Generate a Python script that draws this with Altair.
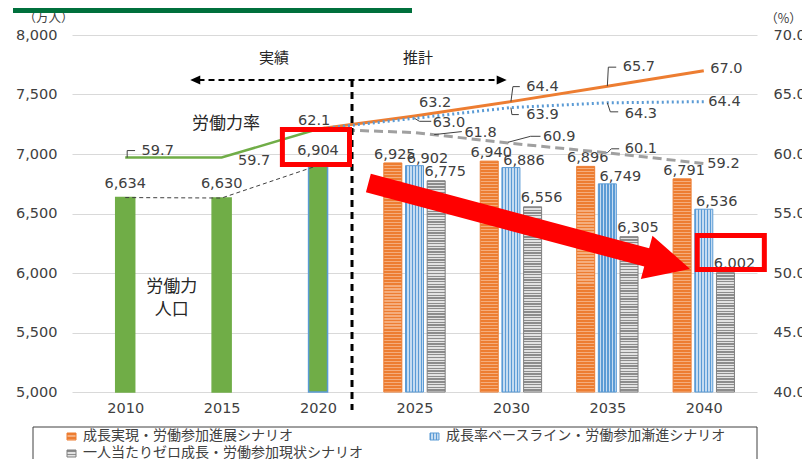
import altair as alt
import pandas as pd

# ---------------- data ----------------
years_hist = [2010, 2015, 2020]
pop_hist = [6634, 6630, 6904]
rate_hist = [59.7, 59.7, 62.1]

years_proj = [2025, 2030, 2035, 2040]
pop_growth = [6925, 6940, 6896, 6791]
pop_base = [6902, 6886, 6749, 6536]
pop_zero = [6775, 6556, 6305, 6002]
rate_growth = [63.2, 64.4, 65.7, 67.0]
rate_base = [63.0, 63.9, 64.3, 64.4]
rate_zero = [61.8, 60.9, 60.1, 59.2]

scenarios = [
    "成長実現・労働参加進展シナリオ",
    "成長率ベースライン・労働参加漸進シナリオ",
    "一人当たりゼロ成長・労働参加現状シナリオ",
]
x_ticks = [2010, 2015, 2020, 2025, 2030, 2035, 2040]
left_ticks = [5000, 5500, 6000, 6500, 7000, 7500, 8000]
right_ticks = [40, 45, 50, 55, 60, 65, 70]

# ---------------- layout / style ----------------
W, H = 685, 357
X_DOM = [2007.5, 2042.5]
YL_DOM = [5000, 8000]
YR_DOM = [40, 70]
PX_YEAR = W / (X_DOM[1] - X_DOM[0])
PX_RATE = H / (YR_DOM[1] - YR_DOM[0])
PX_POP = H / (YL_DOM[1] - YL_DOM[0])
NUM = "DejaVu Sans"
JP = "Noto Sans CJK JP"
TXT = "#404040"
ORANGE, BLUE, GRAY, GREEN = "#ED7D31", "#5B9BD5", "#A5A5A5", "#70AD47"

xs = alt.Scale(domain=X_DOM, nice=False, zero=False)
yl = alt.Scale(domain=YL_DOM, nice=False, zero=False)
yr = alt.Scale(domain=YR_DOM, nice=False, zero=False)
SUB = 22 / PX_YEAR  # spacing of grouped bars, in years


def X(f, axis=None):
    # axis left unspecified unless given, so shared axes merge cleanly
    return alt.X(f, scale=xs, axis=axis) if axis is not None else alt.X(f, scale=xs)


def YL(f, axis=None):
    return alt.Y(f, scale=yl, axis=axis) if axis is not None else alt.Y(f, scale=yl)


def YA(f):
    # y in the annotation layer group (own scale, no axis)
    return alt.Y(f, scale=yl, axis=None)


def YR(f, axis=None):
    return alt.Y(f, scale=yr, axis=axis) if axis is not None else alt.Y(f, scale=yr)


def stripes(on, off, n, horizontal, frac=0.5):
    stops = []
    for i in range(n):
        a, b, c = i / n, (i + frac) / n, (i + 1) / n
        stops += [
            alt.GradientStop(color=on, offset=a),
            alt.GradientStop(color=on, offset=b),
            alt.GradientStop(color=off, offset=b),
            alt.GradientStop(color=off, offset=min(c, 1.0)),
        ]
    if horizontal:
        return alt.LinearGradient(gradient="linear", stops=stops, x1=0, x2=0, y1=0, y2=1)
    return alt.LinearGradient(gradient="linear", stops=stops, x1=0, x2=1, y1=0, y2=0)


def periods(v, period):
    return max(1, round((v - YL_DOM[0]) * PX_POP / period))


# ---------------- left axis group: bars ----------------
x_axis = alt.Axis(values=x_ticks, format="d", grid=False, domain=False, ticks=False,
                  labelPadding=9, labelFont=NUM, labelFontSize=14.5, labelColor=TXT,
                  labelFlush=False, title=None)
left_axis = alt.Axis(values=left_ticks, format=",.0f", grid=True, gridColor="#D9D9D9",
                     domain=False, ticks=False, labelPadding=15, labelFont=NUM,
                     labelFontSize=14.5, labelColor=TXT, title="（万人）", titleAngle=0,
                     titleX=-24, titleY=-18, titleAlign="center", titleBaseline="middle",
                     titleFont=JP, titleFontSize=12.5, titleFontWeight="normal",
                     titleColor=TXT)

hist_df = pd.DataFrame({"year": years_hist, "pop": pop_hist, "rate": rate_hist})

connector = alt.Chart(hist_df).mark_line(color="#404040", strokeWidth=1, strokeDash=[4, 3]).encode(
    x=X("year:Q"), y=YL("pop:Q"))

green_bars = alt.Chart(hist_df).mark_bar(width=19, color=GREEN, strokeWidth=1.5).encode(
    x=X("year:Q", x_axis), y=YL("pop:Q", left_axis), y2=alt.datum(YL_DOM[0]),
    stroke=alt.condition("datum.year == 2020", alt.value(BLUE), alt.value(GREEN)))


def bar_layer(years, pops, k, fill, stroke):
    df = pd.DataFrame({"year": years, "pop": pops})
    return alt.Chart(df).transform_calculate(xb=f"datum.year + ({k}) * {SUB}").mark_bar(
        width=18, fill=fill, stroke=stroke, strokeWidth=1).encode(
        x=X("xb:Q"), y=YL("pop:Q"), y2=alt.datum(YL_DOM[0]))


def label_layer(years, pops, k, dx, dy):
    df = pd.DataFrame({"year": years, "pop": pops})
    return alt.Chart(df).transform_calculate(xb=f"datum.year + ({k}) * {SUB}").mark_text(
        font=NUM, fontSize=14.5, color=TXT, baseline="middle", dx=dx, dy=dy).encode(
        x=X("xb:Q"), y=YL("pop:Q"), text=alt.Text("pop:Q", format=","))


bars = [green_bars, connector]
for yv, pv in zip(years_proj, pop_growth):
    bars.append(bar_layer([yv], [pv], -1, stripes(ORANGE, "#F5AD7C", periods(pv, 3), True, 0.6), ORANGE))
bars.append(bar_layer(years_proj, pop_base, 0, stripes(BLUE, "#C6DCF1", 6, False), BLUE))
for yv, pv in zip(years_proj, pop_zero):
    bars.append(bar_layer([yv], [pv], 1, stripes("#8C8C8C", "#E2E2E2", periods(pv, 2.7), True), "#7F7F7F"))

bars += [
    label_layer(years_hist, pop_hist, 0, 0, -14),
    label_layer(years_proj, pop_growth, -1, 2, -8),
    label_layer(years_proj, pop_base, 0, 13, -7),
    label_layer(years_proj, pop_zero, 1, 9, -9),
]
left_group = alt.layer(*bars)

# ---------------- right axis group: participation rates ----------------
right_axis = alt.Axis(orient="right", values=right_ticks, format=".1f", grid=False,
                      domain=False, ticks=False, labelPadding=16, labelFont=NUM,
                      labelFontSize=14.5, labelColor=TXT, title="（%）", titleAngle=0,
                      titleX=26, titleY=-17, titleAlign="center", titleBaseline="middle",
                      titleFont=JP, titleFontSize=12.5, titleFontWeight="normal",
                      titleColor=TXT)

start_year, start_rate = years_hist[-1], rate_hist[-1]
series = {
    "hist": (years_hist, rate_hist),
    "growth": ([start_year] + years_proj, [start_rate] + rate_growth),
    "base": ([start_year] + years_proj, [start_rate] + rate_base),
    "zero": ([start_year] + years_proj, [start_rate] + rate_zero),
}
line_style = {
    "hist": dict(color=GREEN, strokeWidth=2.5),
    "growth": dict(color=ORANGE, strokeWidth=3),
    "base": dict(color=BLUE, strokeWidth=3, strokeDash=[2, 3]),
    "zero": dict(color="#A0A0A0", strokeWidth=3, strokeDash=[9, 5]),
}
rlayers = []
first = True
for key, (ys, rs) in series.items():
    df = pd.DataFrame({"year": ys, "rate": rs})
    rlayers.append(alt.Chart(df).mark_line(**line_style[key]).encode(
        x=X("year:Q"), y=YR("rate:Q", right_axis if first else None)))
    first = False

# label offsets (px) relative to each point, and leader polylines (px)
label_off = {
    "hist": [(33, -7), (33, 3), (-4, -8)],
    "growth": [(21, -13), (32, -15), (32, -19), (23, -2)],
    "base": [(35, 5), (32, 7), (34, 11), (21, 0)],
    "zero": [(67, 0), (49, -6), (34, -4), (20, 0)],
}
leaders = {
    ("hist", 2010): [(2, 0), (2, -7), (10, -7)],
    ("growth", 2030): [(0, 0), (2, -15), (9, -15)],
    ("growth", 2035): [(0, 0), (1, -19), (9, -19)],
    ("base", 2025): [(0, 0), (5, 3), (17, 3)],
    ("base", 2030): [(0, 0), (1, 7), (8, 7)],
    ("base", 2035): [(0, 0), (3, 9), (11, 9)],
    ("zero", 2025): [(20, 2), (48, -1)],
    ("zero", 2030): [(-3, -1), (20, -7), (30, -7)],
    ("zero", 2035): [(0, 0), (4, -4), (12, -4)],
}
lab_rows, lead_rows = [], []
for key, (ys, rs) in series.items():
    pts = list(zip(ys, rs))
    if key != "hist":
        pts = pts[1:]
    for (yv, rv), (dx, dy) in zip(pts, label_off[key]):
        lab_rows.append({"lx": yv + dx / PX_YEAR, "ly": rv - dy / PX_RATE, "rate": rv})
        for i, (ox, oy) in enumerate(leaders.get((key, yv), [])):
            lead_rows.append({"id": f"{key}{yv}", "o": i, "x": yv + ox / PX_YEAR,
                              "y": rv - oy / PX_RATE})

rlayers.append(alt.Chart(pd.DataFrame(lead_rows)).mark_line(color=TXT, strokeWidth=1).encode(
    x=X("x:Q"), y=YR("y:Q"), detail="id:N", order="o:Q"))
rlayers.append(alt.Chart(pd.DataFrame(lab_rows)).mark_text(
    font=NUM, fontSize=14.5, color=TXT, baseline="middle").encode(
    x=X("lx:Q"), y=YR("ly:Q"), text=alt.Text("rate:Q", format=".1f")))
right_group = alt.layer(*rlayers)

# ---------------- annotations (in data space of left axis) ----------------
def one(**kw):
    return alt.Chart(pd.DataFrame([kw]))


ARROW = "M-1,-0.057L0.73,-0.057L0.73,-0.135L1,0L0.73,0.135L0.73,0.057L-1,0.057Z"
TRI_L = "M-1,0L1,-0.9L1,0.9Z"
TRI_R = "M1,0L-1,-0.9L-1,0.9Z"

ann = [
    one(x=2021.76, y=7622, y2=4849).mark_rule(color="black", strokeWidth=3, strokeDash=[7, 5]).encode(
        x=X("x:Q"), y=YA("y:Q"), y2="y2:Q"),
    one(x=2013.8, x2=2029.4, y=7622).mark_rule(color="black", strokeWidth=2, strokeDash=[6, 4]).encode(
        x=X("x:Q"), x2="x2:Q", y=YA("y:Q")),
    one(x=2013.63, y=7622).mark_point(shape=TRI_L, filled=True, color="black", opacity=1, size=100).encode(
        x=X("x:Q"), y=YA("y:Q")),
    one(x=2029.52, y=7622).mark_point(shape=TRI_R, filled=True, color="black", opacity=1, size=100).encode(
        x=X("x:Q"), y=YA("y:Q")),
    one(x=2017.72, y=7807, t="実績").mark_text(font=JP, fontSize=15, color="#262626").encode(
        x=X("x:Q"), y=YA("y:Q"), text="t:N"),
    one(x=2025.18, y=7807, t="推計").mark_text(font=JP, fontSize=15, color="#262626").encode(
        x=X("x:Q"), y=YA("y:Q"), text="t:N"),
    one(x=2015.22, y=7252, t="労働力率").mark_text(font=JP, fontSize=17, color="#262626").encode(
        x=X("x:Q"), y=YA("y:Q"), text="t:N"),
    one(x=2012.41, y=5882, t="労働力").mark_text(font=JP, fontSize=17, color="#262626").encode(
        x=X("x:Q"), y=YA("y:Q"), text="t:N"),
    one(x=2012.41, y=5689, t="人口").mark_text(font=JP, fontSize=17, color="#262626").encode(
        x=X("x:Q"), y=YA("y:Q"), text="t:N"),
    one(x=2018.15, x2=2021.63, y=7206, y2=6912).mark_rect(filled=False, stroke="#FF0000", strokeWidth=5).encode(
        x=X("x:Q"), x2="x2:Q", y=YA("y:Q"), y2="y2:Q"),
    one(x=2039.66, x2=2043.14, y=6315, y2=6029).mark_rect(filled=False, stroke="#FF0000", strokeWidth=5).encode(
        x=X("x:Q"), x2="x2:Q", y=YA("y:Q"), y2="y2:Q"),
    one(x=2030.95, y=6395).mark_point(shape=ARROW, filled=True, color="#FF0000", opacity=1,
                                      size=333 ** 2, angle=14.95, strokeWidth=0).encode(
        x=X("x:Q"), y=YA("y:Q")),
]

# header bar and legend (outside the plot, pixel layout)
blank = alt.Chart(pd.DataFrame({"a": [0]}))
ann += [
    blank.mark_rect(color="#00703C").encode(x=alt.value(-59), x2=alt.value(340),
                                            y=alt.value(-27), y2=alt.value(-22)),
    blank.mark_rect(filled=False, stroke="#404040", strokeWidth=1).encode(
        x=alt.value(-39), x2=alt.value(685), y=alt.value(392), y2=alt.value(440)),
]
legend_items = [
    (scenarios[0], -5, 401, stripes(ORANGE, "#F5AD7C", 2, True, 0.6), ORANGE),
    (scenarios[1], 358, 401, stripes(BLUE, "#C6DCF1", 3, False), BLUE),
    (scenarios[2], -5, 418, stripes("#8C8C8C", "#E2E2E2", 2, True), "#7F7F7F"),
]
for name, lx, ly, fill, stroke in legend_items:
    ann.append(blank.mark_rect(fill=fill, stroke=stroke, strokeWidth=1).encode(
        x=alt.value(lx), x2=alt.value(lx + 9), y=alt.value(ly - 3), y2=alt.value(ly + 4)))
    ann.append(blank.mark_text(font=JP, fontSize=14, color=TXT, align="left", baseline="middle").encode(
        x=alt.value(lx + 16), y=alt.value(ly), text=alt.value(name)))

ann_group = alt.layer(*ann)

chart = alt.layer(left_group, right_group, ann_group).resolve_scale(y="independent").properties(
    width=W, height=H,
    autosize=alt.AutoSizeParams(type="none"),
    padding={"left": 64, "top": 27, "right": 45, "bottom": 75},
).configure_view(strokeWidth=0)

chart.save("out.html", embed_options={"renderer": "svg", "actions": False})
